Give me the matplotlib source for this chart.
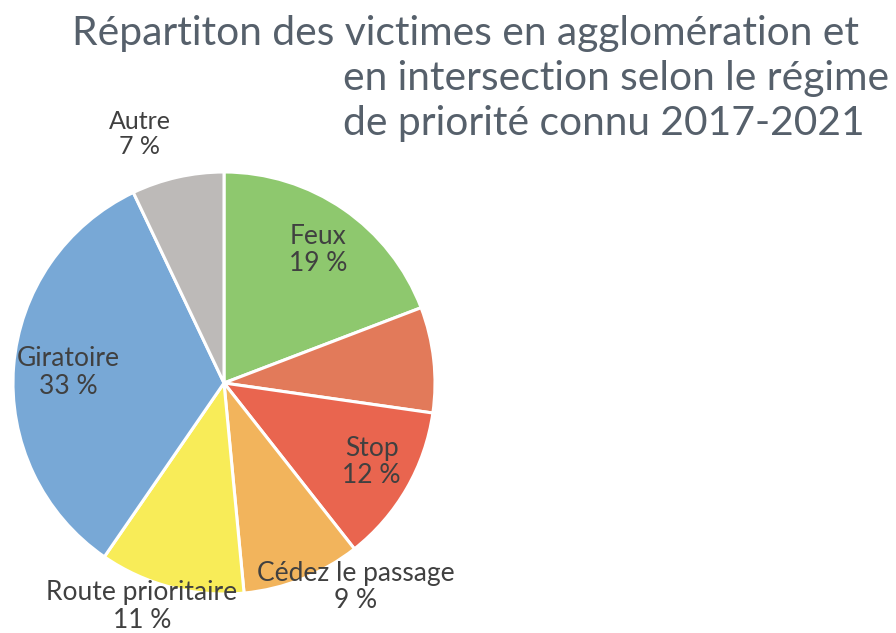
import matplotlib
matplotlib.use("Agg")
import matplotlib.pyplot as plt

# ---- data ----
categories = ["Feux", "", "Stop", "Cédez le passage", "Route prioritaire", "Giratoire", "Autre"]
values = [19, 8, 12, 9, 11, 33, 7]
pct_labels = ["19 %", "", "12 %", "9 %", "11 %", "33 %", "7 %"]
title_lines = ["Répartiton des victimes en agglomération et",
               "en intersection selon le régime",
               "de priorité connu 2017-2021"]

# ---- style ----
colors = ["#8ec86e", "#e27a5a", "#e9654f", "#f2b45c", "#f8ec58", "#78a8d6", "#bdbab8"]
label_pos = [(0.445, 0.63), None, (0.70, -0.374), (0.625, -0.967),
             (-0.39, -1.06), (-0.74, 0.05), (-0.40, 1.18)]
label_size = [19, 0, 19, 19, 19, 19, 18]
font = ["Lato", "DejaVu Sans"]

W, H = 896, 633
fig = plt.figure(figsize=(W / 100, H / 100), dpi=100)
fig.patch.set_facecolor("white")

cx, cy, r = 224, 383, 211
ax = fig.add_axes([(cx - r) / W, (H - cy - r) / H, 2 * r / W, 2 * r / H])
ax.pie(values, colors=colors, startangle=90, counterclock=False, radius=1,
       wedgeprops=dict(edgecolor="white", linewidth=2.2))
ax.set_xlim(-1, 1)
ax.set_ylim(-1, 1)
ax.set_aspect("equal")
ax.axis("off")

for cat, pct, pos, fs in zip(categories, pct_labels, label_pos, label_size):
    if pos is None or not cat:
        continue
    ax.text(pos[0], pos[1], f"{cat}\n{pct}", ha="center", va="center",
            fontsize=fs, color="#404040", family=font, linespacing=1.12,
            clip_on=False)

tcol = "#56606b"
title_x = [72, 343, 343]
title_base = [45, 90, 135]
for line, x, yb in zip(title_lines, title_x, title_base):
    fig.text(x / W, 1 - yb / H, line, ha="left", va="baseline",
             fontsize=29.3, color=tcol, family=font)

fig.savefig("out.png", dpi=100, facecolor="white")
